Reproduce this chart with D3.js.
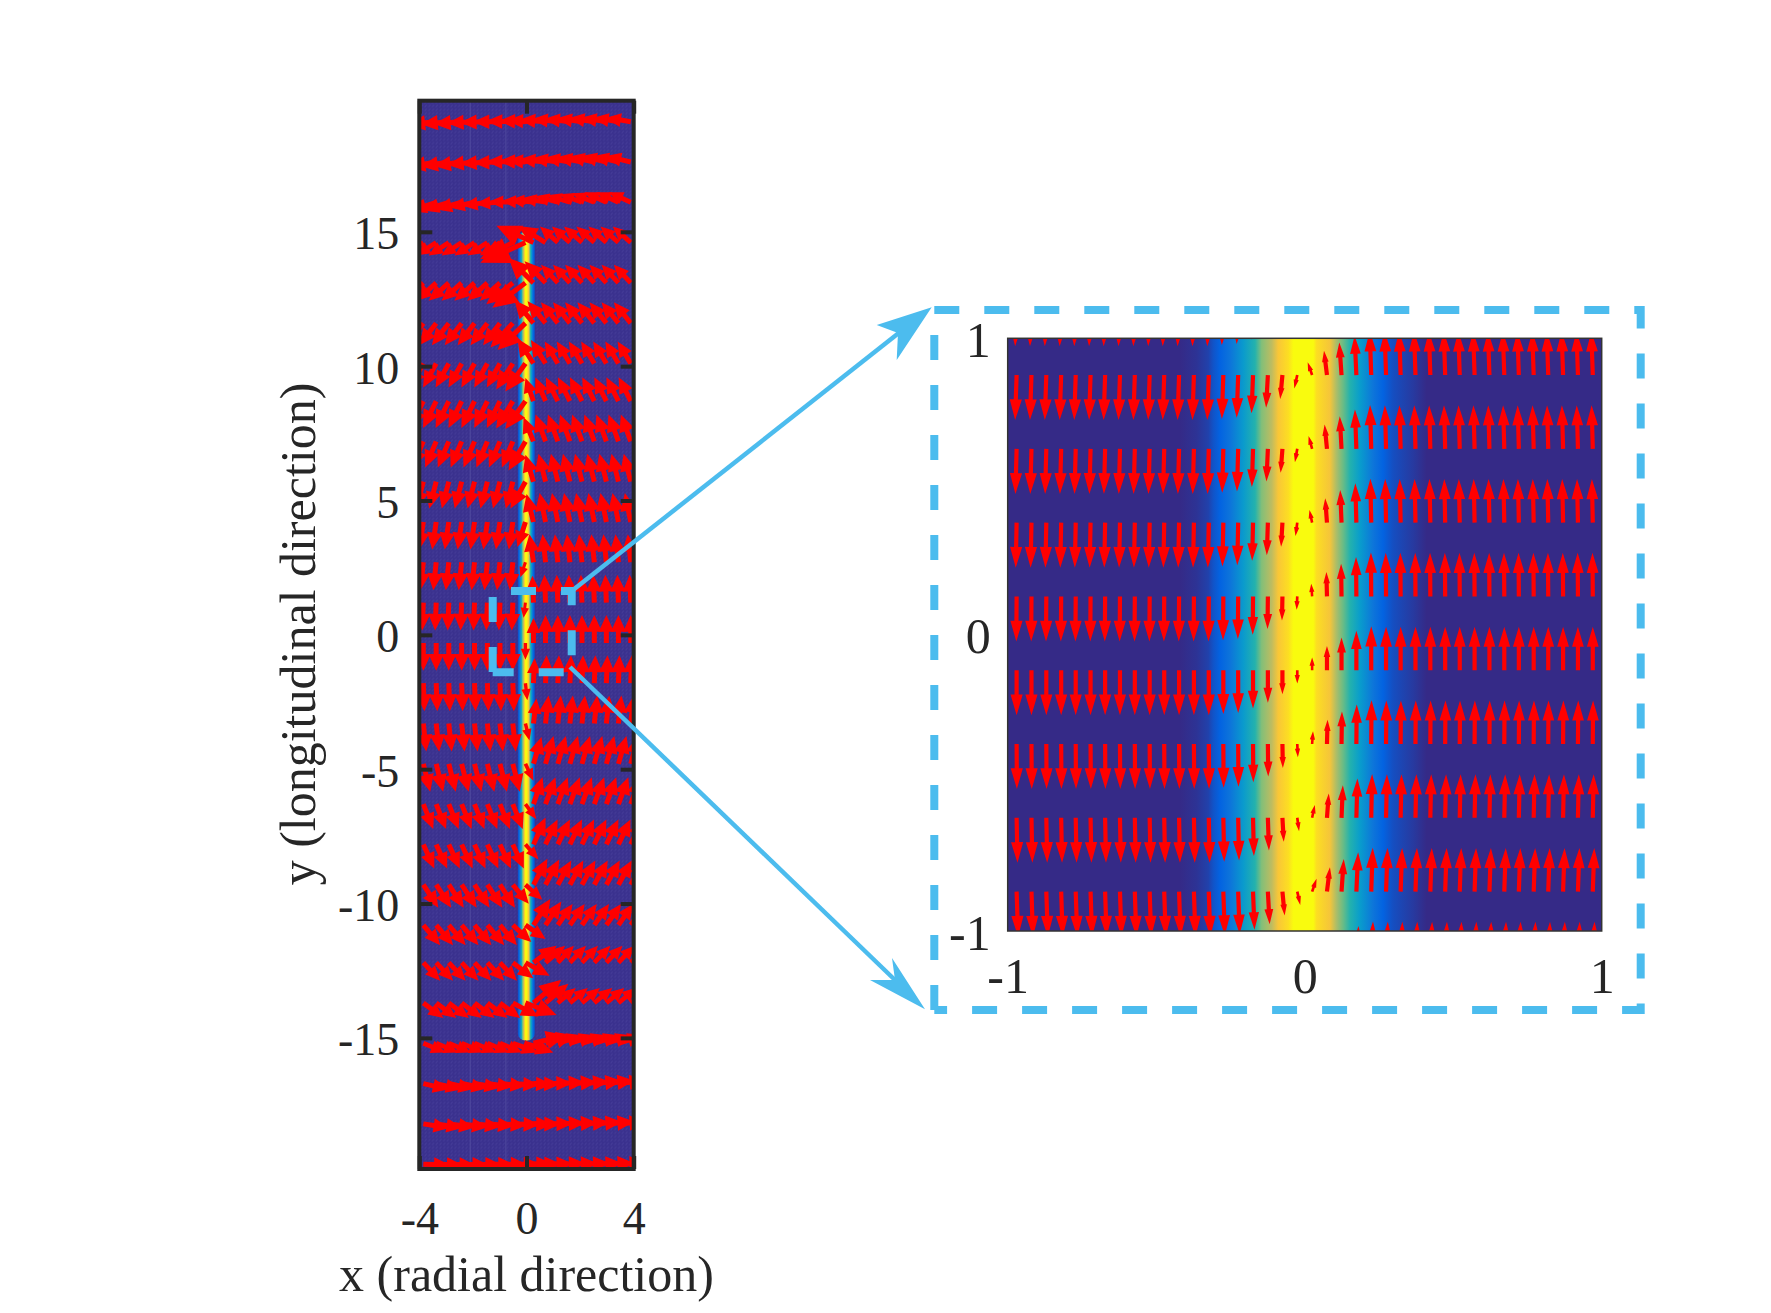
<!DOCTYPE html>
<html>
<head>
<meta charset="utf-8">
<title>Quiver field with zoomed inset</title>
<script src="https://d3js.org/d3.v7.min.js"></script>
<style>
html, body { margin: 0; padding: 0; background: #fff; }
svg { display: block; }
text { font-family: "Liberation Serif", serif; fill: #262626; }
</style>
</head>
<body>
<svg id="chart" width="1771" height="1313"></svg>
<script>
// parula colormap stops
const parula = ["#352a87", "#0363e1", "#1481d6", "#06a4ca", "#2eb7a4", "#87bf77", "#d1bb59", "#fec832", "#f9fb0e"];

// colour field across the core, x against colormap position
const heatX = [-0.42, -0.364, -0.325, -0.308, -0.285, -0.25, -0.207, -0.167, -0.145, -0.111, -0.089, -0.055, -0.038, 0.029, 0.04, 0.085, 0.108, 0.13, 0.152, 0.186, 0.231, 0.264, 0.298, 0.327, 0.365, 0.41];
const heatV = [0, 0.02, 0.05, 0.09, 0.125, 0.2, 0.34, 0.47, 0.62, 0.72, 0.86, 0.93, 1, 1, 0.93, 0.85, 0.68, 0.58, 0.47, 0.35, 0.2, 0.125, 0.08, 0.06, 0.035, 0];

// main panel arrows
const mainCols = [-3.85, -3.37, -2.9, -2.42, -1.94, -1.46, -0.99, -0.51, -0.04, 0.26, 0.71, 1.17, 1.62, 2.07, 2.53, 2.98, 3.43, 3.89];
const mainRows = [19.1, 17.6, 16.1, 14.6, 13.1, 11.6, 10.1, 8.7, 7.2, 5.7, 4.2, 2.7, 1.2, -0.3, -1.8, -3.3, -4.8, -6.3, -7.8, -9.3, -10.8, -12.2, -13.7, -15.2, -16.7, -18.2, -19.7];
const leftU = [-1.04, -1.04, -0.97, -0.75, -0.75, -0.63, -0.49, -0.49, -0.41, -0.26, -0.15, -0.11, -0.04, 0, 0.04, 0.11, 0.26, 0.37, 0.41, 0.56, 0.63, 0.63, 0.75, 0.82, 0.93, 0.97, 1.0];
const leftV = [-0.11, -0.19, -0.34, -0.48, -0.67, -0.82, -0.89, -1.0, -0.97, -1.0, -1.02, -1.04, -1.04, -1.04, -1.04, -1.04, -1.04, -0.93, -0.9, -0.86, -0.75, -0.67, -0.56, -0.34, -0.22, -0.15, -0.04];
const rightU = [-0.93, -0.93, -0.82, -0.67, -0.63, -0.63, -0.49, -0.45, -0.37, -0.26, -0.22, -0.11, -0.04, 0, 0.04, 0.11, 0.3, 0.37, 0.45, 0.5, 0.55, 0.6, 0.67, 0.93, 1.04, 1.04, 1.04];
const rightV = [0.15, 0.22, 0.37, 0.6, 0.67, 0.78, 0.82, 0.89, 1.0, 1.04, 1.08, 1.04, 1.04, 1.04, 1.04, 1.04, 1.04, 1.0, 0.93, 0.9, 0.78, 0.63, 0.56, 0.3, 0.11, 0.08, 0.04];
// the two columns next to the core behave differently
const coreLU = [-1.04, -1.04, -0.97, -1.68, -1.23, -1.04, -0.75, -0.75, -0.63, -0.56, -0.3, -0.19, -0.07, 0, 0.07, 0.15, 0.3, 0.41, 0.49, 0.63, 0.75, 0.9, 1.16, 1.04, 0.93, 0.97, 1.0];
const coreLV = [-0.11, -0.19, -0.34, -0.75, -0.93, -1.0, -1.04, -1.04, -1.08, -1.0, -0.93, -0.56, -0.56, -0.63, -0.63, -0.63, -0.63, -0.56, -0.56, -0.56, -0.52, -0.49, -0.45, -0.34, -0.22, -0.15, -0.04];
const coreRU = [-0.93, -0.93, -0.82, -1.38, -0.93, -0.71, -0.6, -0.3, -0.37, -0.3, -0.26, -0.15, -0.04, 0, 0.04, 0.11, 0.3, 0.34, 0.45, 0.52, 0.63, 0.86, 1.04, 1.23, 1.04, 1.04, 1.04];
const coreRV = [0.15, 0.22, 0.37, 0.63, 0.93, 0.86, 0.93, 0.86, 0.9, 1.0, 1.04, 1.04, 1.0, 0.93, 0.93, 0.93, 1.0, 1.0, 1.0, 0.97, 0.97, 0.63, 0.86, 0.3, 0.11, 0.08, 0.04];
// rows clear of the core: how far each column has gone from the left vector to the right one
const farRows = [0, 1, 2, 24, 25, 26];
const farWeight = [0, 0, 0.05, 0.1, 0.2, 0.3, 0.4, 0.5, 0.55, 0.6, 0.7, 0.8, 0.85, 0.9, 0.95, 1, 1, 1];
// rows where the columns beside the core columns lean towards them, and by how much
const nearRows = [3, 4, 5, 6, 7, 19, 20, 21, 22, 23];
const nearWeight = 0.5;

// inset arrows
const insetCols = [-0.97, -0.92, -0.87, -0.82, -0.771, -0.721, -0.672, -0.622, -0.572, -0.522, -0.473, -0.423, -0.373, -0.323, -0.274, -0.224, -0.174, -0.124, -0.075, -0.025, 0.025, 0.075, 0.124, 0.174, 0.224, 0.274, 0.323, 0.373, 0.423, 0.473, 0.522, 0.572, 0.622, 0.672, 0.721, 0.771, 0.82, 0.87, 0.92, 0.97];
const insetRows = [1.125, 0.876, 0.627, 0.378, 0.129, -0.12, -0.369, -0.618, -0.867, -1.116];
const insetV = [-0.152, -0.152, -0.152, -0.152, -0.152, -0.152, -0.152, -0.152, -0.152, -0.152, -0.152, -0.152, -0.152, -0.152, -0.148, -0.144, -0.129, -0.11, -0.081, -0.045, 0.043, 0.082, 0.11, 0.133, 0.148, 0.147, 0.147, 0.147, 0.147, 0.147, 0.147, 0.147, 0.147, 0.147, 0.147, 0.147, 0.147, 0.147, 0.147, 0.147];
const insetRowU = [-0.005, -0.005, -0.004, -0.003, -0.001, 0, 0.001, 0.003, 0.005, 0.006];
const insetColShear = [1, 1, 1, 1, 1, 1, 1, 1, 1, 1, 1, 1, 1, 1, 1, 1, 1, 1.2, 1.5, 2, 3, 2, 1.5, 1.2, 1, 1, 1, 1, 1, 1, 1, 1, 1, 1, 1, 1, 1, 1, 1, 1];

const mainXTicks = [-4, 0, 4];
const mainYTicks = [-15, -10, -5, 0, 5, 10, 15];
const insetTicks = [-1, 0, 1];

const svg = d3.select("#chart");
const defs = svg.append("defs");
const dark = "#262626";
const boxBlue = "#4cbcee";

// scales
const xMain = d3.scaleLinear().domain([-4, 4]).range([419.3, 633.7]);
const yMain = d3.scaleLinear().domain([-19.88, 19.88]).range([1169, 100.7]);
const xInset = d3.scaleLinear().domain([-1, 1]).range([1007.7, 1601.7]);
const yInset = d3.scaleLinear().domain([-1, 1]).range([931, 338.3]);
const colour = d3.scaleLinear().domain(parula.map((c, i) => i / (parula.length - 1))).range(parula);

function heatGradient(id, x) {
    defs.append("linearGradient")
        .attr("id", id)
        .attr("gradientUnits", "userSpaceOnUse")
        .attr("x1", x(heatX[0])).attr("x2", x(heatX[heatX.length - 1]))
        .attr("y1", 0).attr("y2", 0)
      .selectAll("stop")
      .data(heatX)
      .enter().append("stop")
        .attr("offset", d => (d - heatX[0]) / (heatX[heatX.length - 1] - heatX[0]))
        .attr("stop-color", (d, i) => colour(heatV[i]));
}
heatGradient("heatMain", xMain);
heatGradient("heatInset", xInset);

// mesh texture of the pcolor in the main panel
const mesh = defs.append("pattern").attr("id", "mesh").attr("patternUnits", "userSpaceOnUse")
    .attr("width", 3.72).attr("height", 3.72);
mesh.append("rect").attr("width", 3.72).attr("height", 3.72).attr("fill", "#3a318e");
mesh.append("path").attr("d", "M0.6 3.2L2.4 0.6").attr("stroke", "#453c98").attr("stroke-width", 1).attr("fill", "none");

function addClip(id, x, y) {
    defs.append("clipPath").attr("id", id).append("rect")
        .attr("x", x.range()[0]).attr("y", y.range()[1])
        .attr("width", x.range()[1] - x.range()[0])
        .attr("height", y.range()[0] - y.range()[1]);
}
addClip("clipMain", xMain, yMain);
addClip("clipInset", xInset, yInset);

// arrow outline from tail to tip, in pixels
function arrowPath(d) {
    const dx = d.x2 - d.x1, dy = d.y2 - d.y1;
    const len = Math.sqrt(dx * dx + dy * dy);
    if (len == 0) return "";
    const ux = dx / len, uy = dy / len;
    const nx = -uy, ny = ux;
    // short arrows are nearly all head
    const hl = len < 20 ? len * 0.65 : len * d.head;
    const hw = Math.max(len * d.wide / 2, 2.6);
    const sw = Math.min(d.shaft, len * 0.2) / 2;
    const bx = d.x2 - ux * hl, by = d.y2 - uy * hl;
    const p = d3.path();
    p.moveTo(d.x1 + nx * sw, d.y1 + ny * sw);
    p.lineTo(bx + nx * sw, by + ny * sw);
    p.lineTo(bx + nx * hw, by + ny * hw);
    p.lineTo(d.x2, d.y2);
    p.lineTo(bx - nx * hw, by - ny * hw);
    p.lineTo(bx - nx * sw, by - ny * sw);
    p.lineTo(d.x1 - nx * sw, d.y1 - ny * sw);
    p.closePath();
    return p.toString();
}

// ---- main panel ----
const gMain = svg.append("g");
gMain.append("rect")
    .attr("x", xMain(-4)).attr("y", yMain(19.88))
    .attr("width", xMain(4) - xMain(-4)).attr("height", yMain(-19.88) - yMain(19.88))
    .attr("fill", "url(#mesh)");
gMain.selectAll(".meshline")
    .data([-2.1, -0.77])
    .enter().append("line")
    .attr("x1", d => xMain(d)).attr("x2", d => xMain(d))
    .attr("y1", yMain(19.88)).attr("y2", yMain(-19.88))
    .attr("stroke", "#4f4a9e").attr("stroke-width", 1);
gMain.append("rect")
    .attr("x", xMain(heatX[0] + 0.09)).attr("y", yMain(15))
    .attr("width", xMain(heatX[heatX.length - 1] - 0.09) - xMain(heatX[0] + 0.09))
    .attr("height", yMain(-15.1) - yMain(15))
    .attr("rx", 8).attr("ry", 8)
    .attr("fill", "url(#heatMain)");

const mainArrows = [];
mainRows.forEach(function(y, j) {
    mainCols.forEach(function(x, i) {
        let u, v;
        if (farRows.indexOf(j) > -1) {
            u = leftU[j] + (rightU[j] - leftU[j]) * farWeight[i];
            v = leftV[j] + (rightV[j] - leftV[j]) * farWeight[i];
        }
        else if (i == 8) { u = coreLU[j]; v = coreLV[j]; }
        else if (i == 9) { u = coreRU[j]; v = coreRV[j]; }
        else if (i == 7 && nearRows.indexOf(j) > -1) {
            u = leftU[j] + (coreLU[j] - leftU[j]) * nearWeight;
            v = leftV[j] + (coreLV[j] - leftV[j]) * nearWeight;
        }
        else if (i == 10 && nearRows.indexOf(j) > -1) {
            u = rightU[j] + (coreRU[j] - rightU[j]) * nearWeight;
            v = rightV[j] + (coreRV[j] - rightV[j]) * nearWeight;
        }
        else if (i < 8) { u = leftU[j]; v = leftV[j]; }
        else { u = rightU[j]; v = rightV[j]; }
        mainArrows.push({
            x1: xMain(x), y1: yMain(y), x2: xMain(x + u), y2: yMain(y + v),
            head: 0.6, wide: 0.55, shaft: 5
        });
    });
});
gMain.append("g").attr("clip-path", "url(#clipMain)")
  .selectAll("path")
  .data(mainArrows)
  .enter().append("path")
    .attr("d", arrowPath)
    .attr("fill", "#ff0000");

gMain.append("rect")
    .attr("x", xMain(-4)).attr("y", yMain(19.88))
    .attr("width", xMain(4) - xMain(-4)).attr("height", yMain(-19.88) - yMain(19.88))
    .attr("fill", "none").attr("stroke", dark).attr("stroke-width", 4);

function styleAxis(g, size) {
    g.select(".domain").remove();
    g.selectAll(".tick line").attr("stroke", dark).attr("stroke-width", 4);
    g.selectAll(".tick text").attr("font-size", size).attr("fill", dark)
        .style("font-family", '"Liberation Serif", serif');
}

const minus = d => String(d);
gMain.append("g").attr("transform", "translate(" + xMain(-4) + ",0)")
    .call(d3.axisLeft(yMain).tickValues(mainYTicks).tickFormat(minus).tickSizeInner(-13).tickPadding(20))
    .call(styleAxis, 46)
    .selectAll(".tick text").attr("dy", "0.37em");
gMain.append("g").attr("transform", "translate(" + xMain(4) + ",0)")
    .call(d3.axisRight(yMain).tickValues(mainYTicks).tickFormat("").tickSizeInner(-13))
    .call(styleAxis, 46);
gMain.append("g").attr("transform", "translate(0," + yMain(-19.88) + ")")
    .call(d3.axisBottom(xMain).tickValues(mainXTicks).tickFormat(minus).tickSizeInner(-13).tickPadding(32))
    .call(styleAxis, 46);
gMain.append("g").attr("transform", "translate(0," + yMain(19.88) + ")")
    .call(d3.axisTop(xMain).tickValues(mainXTicks).tickFormat("").tickSizeInner(-13))
    .call(styleAxis, 46);

gMain.append("text")
    .attr("x", xMain(0)).attr("y", 1291)
    .attr("text-anchor", "middle").attr("font-size", 50)
    .text("x (radial direction)");
gMain.append("text")
    .attr("transform", "translate(315,634) rotate(-90)")
    .attr("text-anchor", "middle").attr("font-size", 50)
    .text("y (longitudinal direction)");

// ---- inset ----
const gInset = svg.append("g");
gInset.append("rect")
    .attr("x", xInset(-1)).attr("y", yInset(1))
    .attr("width", xInset(1) - xInset(-1)).attr("height", yInset(-1) - yInset(1))
    .attr("fill", "url(#heatInset)");

const insetArrows = [];
insetRows.forEach(function(y, j) {
    insetCols.forEach(function(x, i) {
        insetArrows.push({
            x1: xInset(x), y1: yInset(y),
            x2: xInset(x + insetRowU[j] * insetColShear[i]), y2: yInset(y + insetV[i]),
            head: 0.46, wide: 0.27, shaft: 4.2
        });
    });
});
gInset.append("g").attr("clip-path", "url(#clipInset)")
  .selectAll("path")
  .data(insetArrows)
  .enter().append("path")
    .attr("d", arrowPath)
    .attr("fill", "#ff0000");

gInset.append("rect")
    .attr("x", xInset(-1)).attr("y", yInset(1))
    .attr("width", xInset(1) - xInset(-1)).attr("height", yInset(-1) - yInset(1))
    .attr("fill", "none").attr("stroke", "#333").attr("stroke-width", 1.5);

gInset.append("g").attr("transform", "translate(" + xInset(-1) + ",0)")
    .call(d3.axisLeft(yInset).tickValues(insetTicks).tickFormat(minus).tickSize(0).tickPadding(17))
    .call(styleAxis, 50)
    .selectAll(".tick text").attr("dy", "0.36em");
gInset.append("g").attr("transform", "translate(0," + yInset(-1) + ")")
    .call(d3.axisBottom(xInset).tickValues(insetTicks).tickFormat(minus).tickSize(0).tickPadding(26))
    .call(styleAxis, 50);

// ---- annotation: dashed boxes and the lines between them ----
const gNote = svg.append("g").attr("fill", "none").attr("stroke", boxBlue);

function dashedBox(l, t, r, b, offset, leftStart) {
    gNote.append("path")
        .attr("d", "M" + l + " " + t + "H" + r + "V" + b + "H" + l)
        .attr("stroke-width", 8)
        .attr("stroke-dasharray", "25 25")
        .attr("stroke-dashoffset", offset);
    gNote.append("path")
        .attr("d", "M" + l + " " + leftStart + "V" + b)
        .attr("stroke-width", 8)
        .attr("stroke-dasharray", "25 25");
}
dashedBox(934.3, 310, 1640.7, 1010, 0, 335);
dashedBox(492.7, 591, 571.7, 672.3, 31.7, 597);

gNote.append("line").attr("x1", 573).attr("y1", 590).attr("x2", 900).attr("y2", 332).attr("stroke-width", 4.5);
gNote.append("line").attr("x1", 570).attr("y1", 667).attr("x2", 895).attr("y2", 980).attr("stroke-width", 4.5);
gNote.append("path").attr("d", "M931.7 307.3L876.7 325L898 333L896.7 360Z").attr("fill", boxBlue).attr("stroke", "none");
gNote.append("path").attr("d", "M925 1009.3L892 958L895 980L870 980Z").attr("fill", boxBlue).attr("stroke", "none");
</script>
</body>
</html>
